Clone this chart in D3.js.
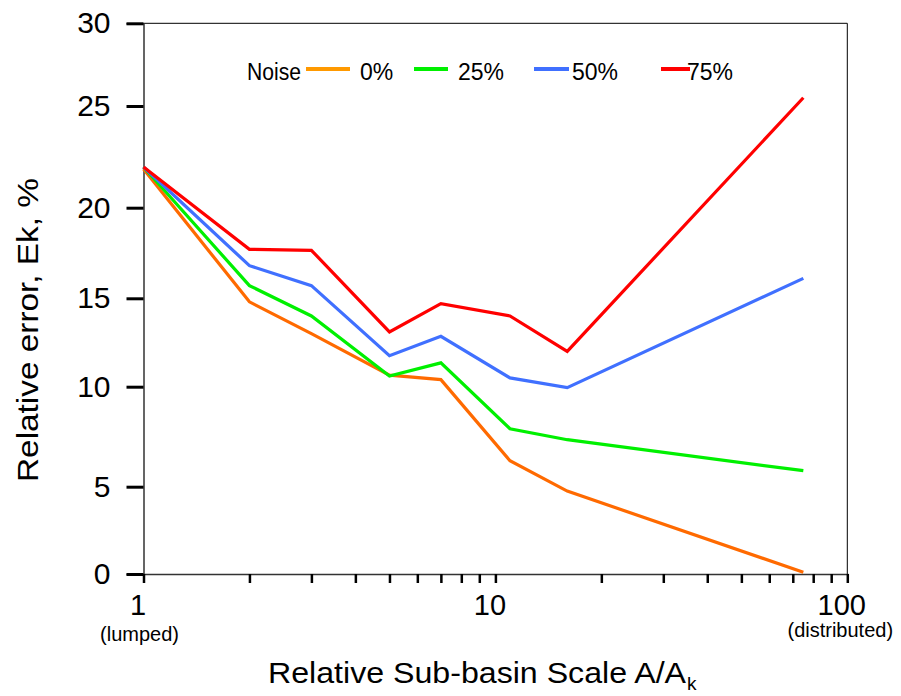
<!DOCTYPE html>
<html><head><meta charset="utf-8">
<script src="https://cdn.jsdelivr.net/npm/d3@7"></script>
<style>body{margin:0;background:#fff}svg{display:block}text{font-family:"Liberation Sans",Arial,sans-serif;fill:#000}</style>
</head><body>
<svg id="c" width="901" height="696"></svg>
<script>
// ---- data ----
const scaleX = [1, 2, 3, 5, 7, 11, 16, 75];
const noise0  = [21.9, 14.8, 13.0, 10.65, 10.4, 6.3, 4.75, 0.1];
const noise25 = [22.0, 15.7, 14.0, 10.6, 11.35, 7.9, 7.35, 5.8];
const noise50 = [22.0, 16.8, 15.7, 11.75, 12.85, 10.5, 9.95, 16.1];
const noise75 = [22.0, 17.7, 17.65, 13.1, 14.7, 14.0, 12.0, 25.5];
const seriesNames = ["0%", "25%", "50%", "75%"];
const yTicks = [0, 5, 10, 15, 20, 25, 30];
const xMajor = [1, 10, 100];
const xMinor = [2,3,4,5,6,7,8,9,20,30,40,50,60,70,80,90];

// ---- styles / layout ----
const lineColors = ["#ff6a00", "#00f000", "#4070ff", "#ff0000"];
const legendColors = ["#ff9900", "#00f000", "#4070ff", "#ff0000"];
const legendLayout = [{x1:306,x2:350,tx:360},{x1:414,x2:448,tx:458},{x1:534,x2:569,tx:572},{x1:661,x2:690,tx:687}];

const svg = d3.select("#c");
const x = d3.scaleLog().domain([1, 100]).range([143.5, 847.3]);
// the reference's y axis tick spacing is irregular; map ticks to their drawn positions
const y = d3.scaleLinear().domain(yTicks).range([574, 486.7, 386.7, 298.3, 207.7, 106, 23.3]);

// frame top/right
svg.append("line").attr("x1", x(1)).attr("x2", x(100)).attr("y1", y(30)).attr("y2", y(30)).attr("stroke", "#000").attr("stroke-width", 1);
svg.append("line").attr("x1", x(100)).attr("x2", x(100)).attr("y1", y(30)).attr("y2", y(0)).attr("stroke", "#000").attr("stroke-width", 1);

// y axis
const ya = svg.append("g").attr("transform", `translate(${x(1)},0)`)
  .call(d3.axisLeft(y).tickValues(yTicks).tickSize(17).tickPadding(16).tickFormat(d3.format("d")));
ya.select(".domain").attr("stroke", "#333").attr("stroke-width", 1.5);
ya.selectAll(".tick line").attr("stroke", "#000").attr("stroke-width", 3);
ya.selectAll(".tick text").attr("font-size", 30).attr("font-family", "Liberation Sans, Arial, sans-serif").attr("fill", "#000");

// x axis
const xa = svg.append("g").attr("transform", `translate(0,${y(0)})`)
  .call(d3.axisBottom(x).tickValues(xMajor.concat(xMinor)).tickSize(9).tickPadding(11)
    .tickFormat(d => xMajor.includes(d) ? String(d) : ""));
xa.select(".domain").attr("stroke", "#333").attr("stroke-width", 1.5);
xa.selectAll(".tick line").attr("stroke", "#000").attr("stroke-width", 2.5);
xa.selectAll(".tick text").attr("font-size", 29).attr("dx", -6).attr("font-family", "Liberation Sans, Arial, sans-serif").attr("fill", "#000");

svg.append("text").attr("x", x(1) - 4).attr("y", 641).attr("text-anchor", "middle").attr("font-size", 20).text("(lumped)");
svg.append("text").attr("x", x(100) - 7).attr("y", 637).attr("text-anchor", "middle").attr("font-size", 20).text("(distributed)");

// axis titles
svg.append("text").attr("x", 268).attr("y", 683).attr("font-size", 29)
  .attr("textLength", 418).attr("lengthAdjust", "spacingAndGlyphs").text("Relative Sub-basin Scale A/A");
svg.append("text").attr("x", 687).attr("y", 690).attr("font-size", 19).text("k");
svg.append("text").attr("transform", "translate(38,330) rotate(-90)").attr("text-anchor", "middle")
  .attr("font-size", 29).attr("textLength", 304).attr("lengthAdjust", "spacingAndGlyphs").text("Relative error, Ek, %");

// lines
const allSeries = [noise0, noise25, noise50, noise75];
const line = d3.line().x(d => x(d[0])).y(d => y(d[1]));
allSeries.forEach((vals, i) => {
  svg.append("path").datum(scaleX.map((s, j) => [s, vals[j]]))
    .attr("d", line).attr("fill", "none").attr("stroke", lineColors[i])
    .attr("stroke-width", 3.2).attr("stroke-linejoin", "miter");
});

// legend
svg.append("text").attr("x", 247).attr("y", 80).attr("font-size", 23)
  .attr("textLength", 54).attr("lengthAdjust", "spacingAndGlyphs").text("Noise");
seriesNames.forEach((n, i) => {
  const L = legendLayout[i];
  svg.append("line").attr("x1", L.x1).attr("x2", L.x2).attr("y1", 69).attr("y2", 69)
    .attr("stroke", legendColors[i]).attr("stroke-width", 4);
  svg.append("text").attr("x", L.tx).attr("y", 80).attr("font-size", 23).text(n);
});
</script>
</body></html>
